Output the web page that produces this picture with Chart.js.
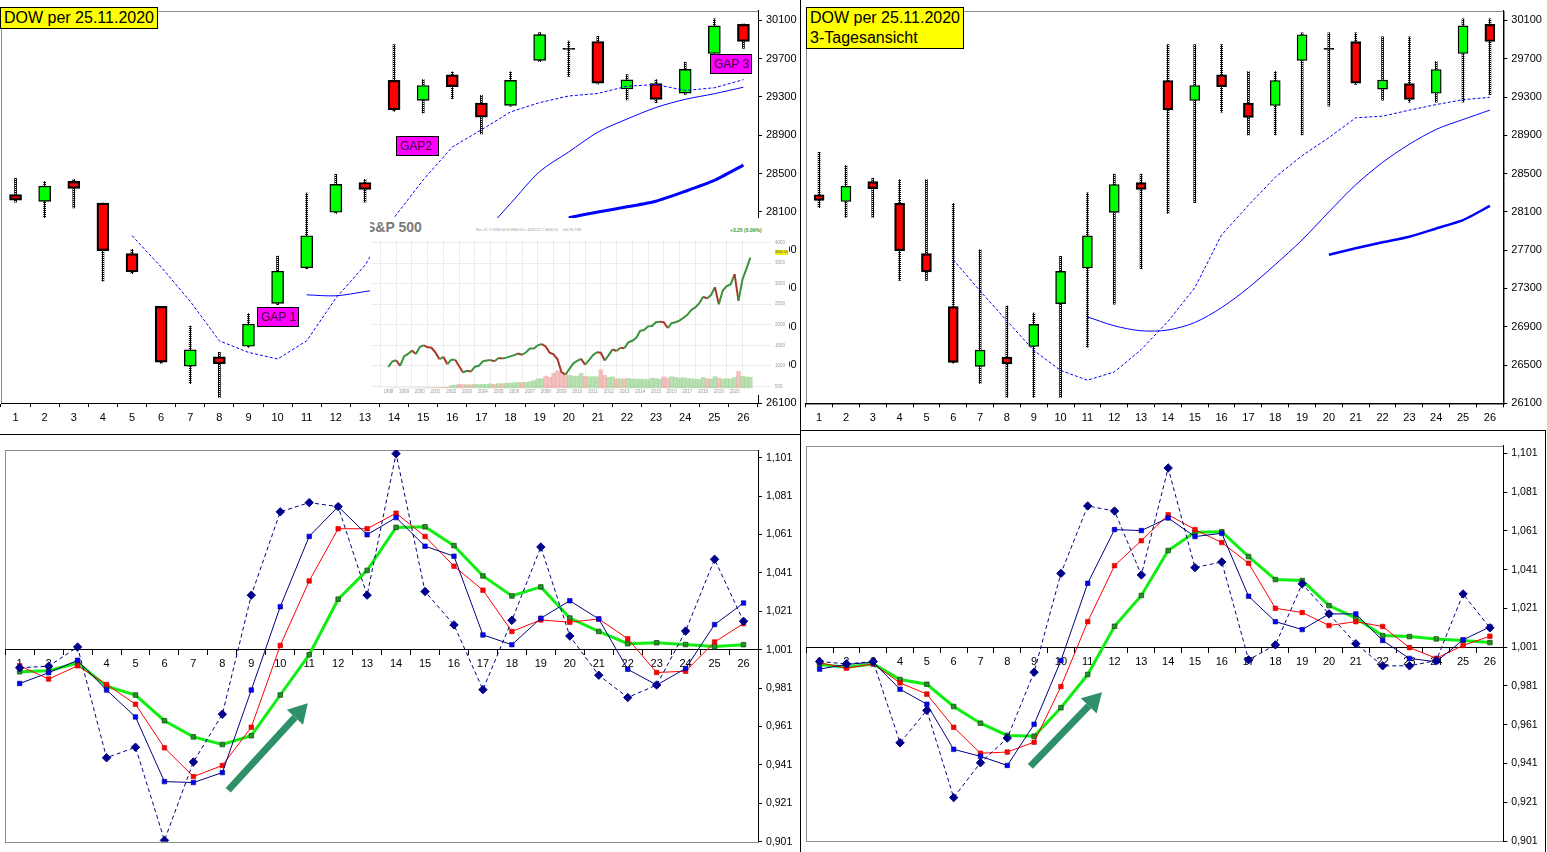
<!DOCTYPE html>
<html>
<head>
<meta charset="utf-8">
<script src="https://cdn.jsdelivr.net/npm/chart.js@4.4.1/dist/chart.umd.min.js"></script>
<style>
  body { margin: 0; background: #fff; width: 1547px; height: 852px; overflow: hidden; position: relative; font-family: 'Liberation Sans', Arial, sans-serif; }
  canvas, .box, .line { position: absolute; }
  .title { background: #ffff00; border: 1px solid #000; font-size: 16px; line-height: 20px; padding: 0 3px; box-sizing: border-box; }
  .gap { background: #ff00ff; border: 1px solid #000; font-size: 12px; line-height: 18px; padding-left: 3px; color: #3d003d; box-sizing: border-box; }
  .line { background: #000; }
  #spx { position: absolute; left: 370px; top: 218px; width: 419px; height: 177px; background: #fff; overflow: hidden; }
  #spx div { position: absolute; white-space: nowrap; }
</style>
</head>
<body>

<canvas id="cTL" width="800" height="432" style="left:0;top:0"></canvas>
<canvas id="cTR" width="746" height="432" style="left:801px;top:0"></canvas>
<canvas id="cBL" width="800" height="417" style="left:0;top:435px"></canvas>
<canvas id="cBR" width="743" height="421" style="left:801px;top:431px"></canvas>

<div class="line" style="left:800px;top:0;width:1px;height:852px"></div>
<div class="line" style="left:0;top:434px;width:800px;height:1px"></div>
<div class="line" style="left:800px;top:430px;width:745px;height:1px"></div>
<div class="line" style="left:1545px;top:430px;width:1px;height:422px"></div>

<div id="spx">
  <div style="left:-4px;top:2px;font-weight:bold;font-size:14px;line-height:14px;color:#7a7a7a">S&amp;P 500</div>
  <div style="left:106px;top:10px;font-size:3.6px;color:#999">Nov 25</div>
  <div style="left:119px;top:10px;font-size:3.6px;color:#999">O:3260.00 H:3668.00 L:3243.25 C:3630.50</div>
  <div style="left:193px;top:10px;font-size:3.6px;color:#999">Vol:28.75M</div>
  <div style="left:360px;top:9px;font-size:5px;font-weight:bold;color:#3a9a3a">+3.25 (0.09%)</div>
  <canvas id="cSP" width="419" height="163" style="left:0;top:14px"></canvas>
  <div style="left:405px;top:32px;width:13px;height:5px;background:#f2ee00;font-size:3.5px;line-height:5px;color:#555">3630.50</div>
</div>

<div class="box title" style="left:0;top:7px;width:158px;height:22px">DOW per 25.11.2020</div>
<div class="box title" style="left:806px;top:7px;width:158px;height:42px">DOW per 25.11.2020<br>3-Tagesansicht</div>
<div class="box gap" style="left:257px;top:307px;width:42px;height:20px">GAP 1</div>
<div class="box gap" style="left:396px;top:136px;width:43px;height:20px">GAP2</div>
<div class="box gap" style="left:710px;top:54px;width:42px;height:20px">GAP 3</div>

<script>
// --- DOW daily candles (bodies are the same in both views) ---
const days = ['1','2','3','4','5','6','7','8','9','10','11','12','13','14','15','16','17','18','19','20','21','22','23','24','25','26'];
const dowOpen  = [28279, 28208, 28417, 28190, 27663, 27110, 26486, 26583, 26693, 27142, 27514, 28095, 28406, 29473, 29264, 29532, 29236, 29212, 29682, 29808, 29880, 29383, 29440, 29340, 29755, 30060];
const dowClose = [28221, 28368, 28343, 27694, 27472, 26528, 26656, 26511, 26925, 27478, 27849, 28386, 28334, 29166, 29420, 29408, 29088, 29473, 29951, 29798, 29444, 29478, 29274, 29588, 30043, 29880];
const dowHigh  = [28450, 28416, 28440, 28190, 27708, 27110, 26904, 26629, 27035, 27636, 28296, 28492, 28440, 29849, 29481, 29564, 29316, 29564, 29973, 29883, 29935, 29533, 29481, 29664, 30117, 30065];
const dowLow   = [28200, 28038, 28141, 27375, 27453, 26515, 26303, 26158, 26680, 27127, 27505, 28082, 28200, 29148, 29134, 29282, 28914, 29203, 29670, 29515, 29437, 29268, 29241, 29327, 29739, 29808];
// 3-day view high/low
const dow3High = [28721, 28583, 28452, 28438, 28438, 28190, 27704, 27117, 27042, 27635, 28300, 28496, 28496, 29849, 29849, 29849, 29566, 29566, 29970, 29970, 29970, 29928, 29928, 29670, 30118, 30118];
const dow3Low  = [28145, 28041, 28041, 27383, 27383, 26520, 26307, 26162, 26162, 26162, 26686, 27135, 27507, 28083, 28196, 29142, 28904, 28904, 28904, 29204, 29432, 29266, 29245, 29245, 29245, 29324];

// moving averages
const maShort = [null, null, null, null, 27850, 27522, 27162, 26750, 26629, 26560, 26750, 27196, 27540, 28038, 28433, 28777, 28956, 29144, 29241, 29310, 29337, 29412, 29430, 29368, 29396, 29481];
const maMid   = [null, null, null, null, null, null, null, null, null, null, 27231, 27221, 27265, 27320, 27440, 27620, 27860, 28186, 28519, 28725, 28932, 29069, 29190, 29275, 29334, 29402];
const maLong  = [null, null, null, null, null, null, null, null, null, null, null, null, null, null, null, null, null, null, null, 28038, 28097, 28151, 28210, 28313, 28427, 28588];
const ma3Short = [null, null, null, null, null, 27600, 27273, 26962, 26652, 26444, 26341, 26427, 26660, 26955, 27307, 27859, 28169, 28462, 28687, 28876, 29083, 29100, 29163, 29221, 29272, 29297];
const ma3Mid   = [null, null, null, null, null, null, null, null, null, null, 27003, 26910, 26858, 26866, 26944, 27100, 27307, 27549, 27807, 28100, 28383, 28617, 28807, 28962, 29065, 29163];
const ma3Long  = [null, null, null, null, null, null, null, null, null, null, null, null, null, null, null, null, null, null, null, 27652, 27720, 27783, 27841, 27927, 28014, 28162];
const dowTicks = [26100, 26500, 26900, 27300, 27700, 28100, 28500, 28900, 29300, 29700, 30100];

// --- ratio lines (lower charts) ---
const ratioDash  = [0.9916, 0.9924, 1.0024, 0.9447, 0.9502, 0.9017, 0.9425, 0.9674, 1.0294, 1.0728, 1.0776, 1.0755, 1.0294, 1.1031, 1.0313, 1.0139, 0.9802, 1.0163, 1.0545, 1.0081, 0.9877, 0.9761, 0.9826, 1.0107, 1.0481, 1.0158];
const ratioBlue  = [0.9834, 0.9890, 0.9955, 0.9800, 0.9660, 0.9323, 0.9318, 0.9370, 0.9800, 1.0234, 1.0600, 1.0755, 1.0609, 1.0698, 1.0549, 1.0497, 1.0087, 1.0036, 1.0174, 1.0265, 1.0170, 0.9908, 0.9826, 0.9912, 1.0141, 1.0253];
const ratioRed   = [0.9926, 0.9857, 0.9926, 0.9829, 0.9726, 0.9499, 0.9349, 0.9407, 0.9606, 1.0032, 1.0368, 1.0640, 1.0640, 1.0721, 1.0600, 1.0445, 1.0320, 1.0105, 1.0165, 1.0153, 1.0170, 1.0067, 0.9891, 0.9898, 1.0050, 1.0146];
const ratioGreen = [0.9895, 0.9900, 0.9941, 0.9820, 0.9774, 0.9640, 0.9556, 0.9516, 0.9562, 0.9774, 0.9984, 1.0273, 1.0423, 1.0647, 1.0650, 1.0552, 1.0394, 1.0290, 1.0337, 1.0175, 1.0105, 1.0041, 1.0046, 1.0037, 1.0027, 1.0036];
const ratio3Dash  = [0.9936, 0.9924, 0.9936, 0.9517, 0.9684, 0.9234, 0.9414, 0.9541, 0.9881, 1.0391, 1.0739, 1.0713, 1.0383, 1.0935, 1.0421, 1.0450, 0.9945, 1.0022, 1.0337, 1.0182, 1.0028, 0.9914, 0.9914, 0.9941, 1.0285, 1.0110];
const ratio3Blue  = [0.9897, 0.9921, 0.9933, 0.9793, 0.9716, 0.9483, 0.9447, 0.9400, 0.9612, 0.9941, 1.0340, 1.0617, 1.0612, 1.0677, 1.0581, 1.0598, 1.0273, 1.0142, 1.0101, 1.0182, 1.0182, 1.0045, 0.9952, 0.9935, 1.0048, 1.0115];
const ratio3Red   = [0.9930, 0.9902, 0.9924, 0.9826, 0.9768, 0.9597, 0.9463, 0.9469, 0.9520, 0.9807, 1.0142, 1.0431, 1.0560, 1.0694, 1.0617, 1.0550, 1.0443, 1.0211, 1.0189, 1.0122, 1.0142, 1.0117, 1.0008, 0.9953, 1.0019, 1.0067];
const ratio3Green = [0.9921, 0.9907, 0.9924, 0.9843, 0.9819, 0.9704, 0.9618, 0.9555, 0.9551, 0.9698, 0.9869, 1.0118, 1.0277, 1.0509, 1.0603, 1.0606, 1.0478, 1.0359, 1.0354, 1.0225, 1.0160, 1.0070, 1.0065, 1.0053, 1.0045, 1.0034];
const ratioTicks = [0.901, 0.921, 0.941, 0.961, 0.981, 1.001, 1.021, 1.041, 1.061, 1.081, 1.101];

// --- S&P 500 inset, quarterly from 1998 ---
const spYears = [1998, 1999, 2000, 2001, 2002, 2003, 2004, 2005, 2006, 2007, 2008, 2009, 2010, 2011, 2012, 2013, 2014, 2015, 2016, 2017, 2018, 2019, 2020];
const spClose = [
  975, 1105, 1135, 1000,  1230, 1290, 1370, 1290,  1460, 1500, 1450, 1440,  1320, 1160, 1220, 1040,
  1150, 1150, 990, 840,   880, 860, 980, 1000,     1110, 1130, 1140, 1110,  1190, 1180, 1200, 1230,
  1260, 1300, 1270, 1330, 1420, 1420, 1500, 1530,  1470, 1320, 1280, 1160,  850, 790, 920, 1060,
  1120, 1170, 1030, 1140, 1260, 1330, 1320, 1130,  1260, 1400, 1360, 1440,  1430, 1570, 1610, 1680,
  1850, 1870, 1960, 1970, 2060, 2070, 2060, 1920,  2040, 2060, 2100, 2170,  2240, 2360, 2420, 2520,
  2680, 2640, 2720, 2910, 2500, 2830, 2940, 2980,  3230, 2580, 3100, 3360,  3630
];
const spVolume = [
  0.1, 0.1, 0.1, 0.1,  0.1, 0.1, 0.1, 0.1,  0.2, 0.2, 0.2, 0.2,  0.3, 0.3, 0.4, 0.4,
  1.0, 1.2, 1.5, 1.4,  1.4, 1.3, 1.5, 1.4,  1.5, 1.5, 1.6, 1.5,  1.7, 1.7, 1.8, 1.9,
  2.0, 2.2, 2.1, 2.2,  2.5, 2.8, 3.5, 3.6,  4.5, 4.0, 5.5, 6.5,  6.0, 5.5, 4.8, 4.5,
  4.5, 5.5, 4.4, 4.2,  4.3, 4.2, 6.8, 4.8,  4.0, 4.2, 3.6, 3.5,  3.5, 3.7, 3.4, 3.4,
  3.4, 3.3, 3.2, 3.8,  3.6, 3.4, 4.2, 3.8,  4.3, 4.0, 3.7, 3.9,  3.6, 3.5, 3.4, 3.3,
  4.0, 3.6, 3.4, 4.3,  3.8, 3.4, 3.6, 3.4,  4.0, 6.2, 4.4, 4.2,  4.0
];

Chart.defaults.font.family = "'Liberation Sans', Arial, sans-serif";
Chart.defaults.font.size = 11;
Chart.defaults.color = '#000';

// dotted high-low line look
const pc = document.createElement('canvas');
pc.width = 2; pc.height = 2;
const pctx = pc.getContext('2d');
pctx.fillStyle = '#fff'; pctx.fillRect(0, 0, 2, 2);
pctx.fillStyle = '#000'; pctx.fillRect(0, 0, 2, 1); pctx.fillRect(0, 1, 1, 1);
const wickFill = pctx.createPattern(pc, 'repeat');

// grey plot-area frame like excel
const plotFrame = {
  id: 'plotFrame',
  beforeDraw(chart) {
    const a = chart.chartArea, ctx = chart.ctx;
    ctx.save();
    ctx.strokeStyle = '#8c8c8c';
    ctx.lineWidth = 1;
    ctx.strokeRect(Math.round(a.left) + 0.5, Math.round(a.top) + 0.5, Math.round(a.right - a.left), Math.round(a.bottom - a.top));
    ctx.restore();
  }
};

const arrowPlugin = (from, to) => ({
  id: 'arrow',
  afterDatasetsDraw(chart) {
    const x = chart.scales.x, y = chart.scales.y, ctx = chart.ctx;
    const x0 = x.getPixelForValue(from[0]), y0 = y.getPixelForValue(from[1]);
    const x1 = x.getPixelForValue(to[0]), y1 = y.getPixelForValue(to[1]);
    const len = Math.hypot(x1 - x0, y1 - y0), ux = (x1 - x0) / len, uy = (y1 - y0) / len;
    const bx = x1 - ux * 19, by = y1 - uy * 19;
    ctx.save();
    ctx.strokeStyle = ctx.fillStyle = '#2e9068';
    ctx.lineWidth = 7;
    ctx.beginPath(); ctx.moveTo(x0, y0); ctx.lineTo(bx, by); ctx.stroke();
    ctx.beginPath();
    ctx.moveTo(x1, y1);
    ctx.lineTo(bx - uy * 11, by + ux * 11);
    ctx.lineTo(bx + uy * 11, by - ux * 11);
    ctx.closePath(); ctx.fill();
    ctx.restore();
  }
});

// body colour: red falling, green rising, black line for a doji
const bodyColor = (o, c) => Math.abs(c - o) < 15 ? '#000' : (c < o ? '#ff0000' : '#00ff00');

const candleChart = (id, highs, lows, short, mid, long, opt) => {
  new Chart(document.getElementById(id), {
    type: 'bar',
    data: {
      labels: days,
      datasets: [
        { type: 'line', data: short, borderColor: '#0000ff', borderWidth: 1, borderDash: [3, 2], pointRadius: 0, tension: 0, order: 0 },
        { type: 'line', data: mid, borderColor: '#0000ff', borderWidth: 1, pointRadius: 0, tension: 0.3, order: 0 },
        { type: 'line', data: long, borderColor: '#0000ff', borderWidth: opt.longWidth, pointRadius: 0, tension: 0.2, order: 0 },
        {
          data: dowOpen.map((o, i) => [o, dowClose[i]]),
          backgroundColor: dowOpen.map((o, i) => bodyColor(o, dowClose[i])),
          borderColor: '#000',
          borderWidth: dowOpen.map((o, i) => dowClose[i] < o ? 2.2 : 1.4),
          borderSkipped: false,
          barThickness: opt.body,
          grouped: false,
          order: 1
        },
        {
          data: lows.map((l, i) => [l, highs[i]]),
          backgroundColor: wickFill,
          barThickness: 2,
          grouped: false,
          order: 2
        }
      ]
    },
    options: {
      responsive: false,
      animation: false,
      layout: { padding: { left: opt.left, top: opt.top, right: 0, bottom: 0 } },
      plugins: { legend: { display: false }, tooltip: { enabled: false } },
      scales: {
        x: {
          offset: true,
          grid: { offset: true, drawOnChartArea: false, tickLength: 4, color: '#000' },
          border: { color: '#000' },
          ticks: { padding: 4, autoSkip: false, maxRotation: 0 },
          afterFit: s => { s.height = opt.xh; }
        },
        y: {
          position: 'right',
          min: 26100,
          max: 30203,
          grid: { drawOnChartArea: false, tickLength: 4, color: '#000' },
          border: { color: '#000' },
          ticks: { padding: 4, callback: v => String(v) },
          afterBuildTicks: s => { s.ticks = dowTicks.map(v => ({ value: v })); },
          afterFit: s => { s.width = opt.yw; }
        }
      }
    },
    plugins: [plotFrame]
  });
};

const ratioChart = (id, dash, blue, red, green, opt) => {
  new Chart(document.getElementById(id), {
    type: 'line',
    data: {
      labels: days,
      datasets: [
        { data: dash, borderColor: '#000080', borderWidth: 1, borderDash: [4, 3], pointStyle: 'rectRot', pointRadius: 4.2, pointBackgroundColor: '#00008b', pointBorderColor: '#00008b', order: 0 },
        { data: blue, borderColor: '#000080', borderWidth: 1, pointStyle: 'rect', pointRadius: 3.2, pointBackgroundColor: '#0000ff', pointBorderColor: '#000080', pointBorderWidth: 0.6, order: 1 },
        { data: red, borderColor: '#ff0000', borderWidth: 1, pointStyle: 'rect', pointRadius: 3.2, pointBackgroundColor: '#ff0000', pointBorderColor: '#cc0000', pointBorderWidth: 0.6, order: 2 },
        { data: green, borderColor: '#11ee11', borderWidth: 3, pointStyle: 'rect', pointRadius: 3.2, pointBackgroundColor: '#2e8b2e', pointBorderColor: '#0a5a0a', pointBorderWidth: 0.8, order: 3 }
      ]
    },
    options: {
      responsive: false,
      animation: false,
      elements: { line: { tension: 0 } },
      layout: { padding: { left: opt.left, top: opt.top, right: 0, bottom: opt.bottom } },
      plugins: { legend: { display: false }, tooltip: { enabled: false } },
      scales: {
        x: {
          offset: true,
          position: { y: 1.001 },
          grid: { offset: true, drawOnChartArea: false, tickLength: 5, color: '#000' },
          border: { color: '#000' },
          ticks: { padding: 3, autoSkip: false, maxRotation: 0, font: { size: 11 } },
          afterFit: s => { s.height = 0; }
        },
        y: {
          position: 'right',
          min: 0.901,
          max: 1.105,
          grid: { drawOnChartArea: false, tickLength: 4, color: '#000' },
          border: { color: '#000' },
          ticks: { padding: 4, font: { size: 10.5 }, callback: v => v.toFixed(3).replace('.', ',') },
          afterBuildTicks: s => { s.ticks = ratioTicks.map(v => ({ value: v })); },
          afterFit: s => { s.width = opt.yw; }
        }
      }
    },
    plugins: [plotFrame, arrowPlugin(opt.arrowFrom, opt.arrowTo)]
  });
};

candleChart('cTL', dowHigh, dowLow, maShort, maMid, maLong, { left: 1, top: 5, xh: 29, yw: 42, body: 12, longWidth: 3 });
candleChart('cTR', dow3High, dow3Low, ma3Short, ma3Mid, ma3Long, { left: 4.7, top: 6.7, xh: 28.7, yw: 43.7, body: 10, longWidth: 2.5 });

ratioChart('cBL', ratioDash, ratioBlue, ratioRed, ratioGreen, { left: 1, top: 15, bottom: 7, yw: 42, arrowFrom: [7.2, 0.9278], arrowTo: [9.95, 0.9731] });
ratioChart('cBR', ratio3Dash, ratio3Blue, ratio3Red, ratio3Green, { left: 4.7, top: 14.7, bottom: 11, yw: 40.7, arrowFrom: [7.86, 0.9395], arrowTo: [10.53, 0.9778] });

// S&P 500 inset
new Chart(document.getElementById('cSP'), {
  type: 'line',
  data: {
    datasets: [
      {
        type: 'line',
        data: spClose.map((v, i) => ({ x: 1998 + i / 4, y: v })),
        borderColor: '#3f9a3f',
        borderWidth: 2,
        pointRadius: 0,
        segment: { borderColor: c => c.p1.parsed.y < c.p0.parsed.y ? '#a8382c' : '#3a933a' },
        yAxisID: 'y',
        order: 0
      },
      {
        type: 'bar',
        data: spVolume.map((v, i) => ({ x: 1998 + i / 4, y: v })),
        backgroundColor: c => c.dataIndex > 0 && spClose[c.dataIndex] < spClose[c.dataIndex - 1] ? 'rgba(240,150,150,0.6)' : 'rgba(140,205,130,0.6)',
        barPercentage: 1,
        categoryPercentage: 1,
        yAxisID: 'yv',
        order: 1
      }
    ]
  },
  options: {
    responsive: false,
    animation: false,
    layout: { padding: { left: 2, top: 0, right: 0, bottom: 0 } },
    plugins: { legend: { display: false }, tooltip: { enabled: false } },
    scales: {
      x: {
        type: 'linear',
        min: 1997.514,
        max: 2021.763,
        grid: { color: '#ececec', drawTicks: false },
        border: { display: false },
        ticks: { font: { size: 4.5 }, color: '#999', padding: 1, callback: v => String(v) },
        afterBuildTicks: s => { s.ticks = spYears.map(v => ({ value: v })); },
        afterFit: s => { s.height = 5; }
      },
      y: {
        position: 'right',
        min: 454,
        max: 4092,
        grid: { color: '#ececec', drawTicks: false },
        border: { display: false },
        ticks: { font: { size: 4.5 }, color: '#999', padding: 4, callback: v => String(v) },
        afterBuildTicks: s => { s.ticks = [500, 1000, 1500, 2000, 2500, 3000, 3500, 4000].map(v => ({ value: v })); },
        afterFit: s => { s.width = 18; }
      },
      yv: { display: false, min: 0, max: 55 }
    }
  }
});
</script>
</body>
</html>
